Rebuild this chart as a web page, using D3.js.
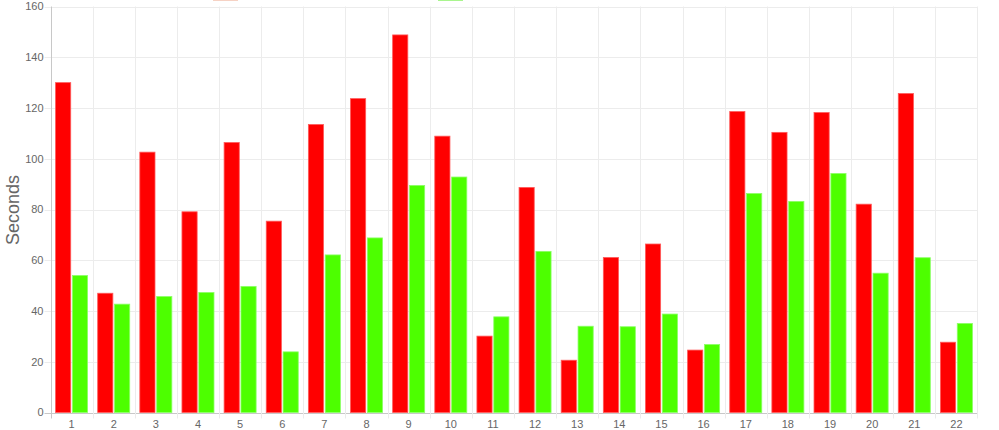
<!DOCTYPE html>
<html>
<head>
<meta charset="utf-8">
<script src="https://cdn.jsdelivr.net/npm/d3@7"></script>
<style>
  body { margin: 0; background: #fff; }
  text { font-family: "Liberation Sans", Arial, Helvetica, sans-serif; fill: #666; }
</style>
</head>
<body>
<script>
var width = 999,
    height = 430;

// data
var categories = ['1','2','3','4','5','6','7','8','9','10','11','12','13','14','15','16','17','18','19','20','21','22'];
var seriesNames = ['red', 'green'];
var redValues = [130, 47, 102.6, 79.1, 106.4, 75.4, 113.5, 123.7, 148.8, 108.9, 30.1, 88.7, 20.6, 61.1, 66.4, 24.6, 118.6, 110.4, 118.2, 82.1, 125.7, 27.7];
var greenValues = [54, 42.7, 45.7, 47.3, 49.7, 23.9, 62.1, 68.8, 89.5, 92.8, 37.7, 63.5, 34, 33.8, 38.8, 26.8, 86.3, 83.2, 94.2, 54.9, 61, 35.1];
var yTicks = [0, 20, 40, 60, 80, 100, 120, 140, 160];

var colors = { red: '#ff0000', green: '#4dff00' };
var borders = { red: '#ff5a5a', green: '#8cff66' };
var legendColors = { red: '#f6d2c4', green: '#a9f58e' };

var margin = { left: 50.5, right: 21.5, top: 6.5, bottom: 17.5 };

var svg = d3.select('body').append('svg')
    .attr('width', width)
    .attr('height', height);

var x0 = d3.scaleBand()
    .domain(categories)
    .range([margin.left, width - margin.right])
    .padding(0);

var bw = x0.bandwidth();
var x1 = d3.scaleBand()
    .domain(seriesNames)
    .range([bw * 0.1, bw * 0.9])
    .paddingInner(0.1)
    .paddingOuter(0.05);

var y = d3.scaleLinear()
    .domain([0, 160])
    .range([height - margin.bottom, margin.top]);

/* grid */
var grid = svg.append('g');
grid.selectAll('line.h')
    .data(yTicks)
    .enter().append('line')
    .attr('x1', margin.left - 6)
    .attr('x2', width - margin.right)
    .attr('y1', function(d) { return Math.round(y(d)) + 0.5; })
    .attr('y2', function(d) { return Math.round(y(d)) + 0.5; })
    .style('stroke', function(d) { return d === 0 ? '#c8c8c8' : '#ececec'; })
    .style('stroke-width', 1);

var bounds = categories.map(function(c) { return x0(c); }).concat([x0(categories[categories.length - 1]) + bw]);
grid.selectAll('line.v')
    .data(bounds)
    .enter().append('line')
    .attr('x1', function(d) { return Math.round(d) + 0.5; })
    .attr('x2', function(d) { return Math.round(d) + 0.5; })
    .attr('y1', margin.top)
    .attr('y2', height - margin.bottom + 6)
    .style('stroke', function(d, i) { return i === 0 ? '#c8c8c8' : '#ececec'; })
    .style('stroke-width', 1);

/* y tick labels */
svg.append('g').selectAll('text')
    .data(yTicks)
    .enter().append('text')
    .attr('x', margin.left - 7)
    .attr('y', function(d) { return y(d); })
    .attr('dy', '0.35em')
    .attr('text-anchor', 'end')
    .style('font-size', '11px')
    .text(function(d) { return d; });

/* x tick labels */
svg.append('g').selectAll('text')
    .data(categories)
    .enter().append('text')
    .attr('x', function(d) { return x0(d) + bw / 2; })
    .attr('y', height - margin.bottom + 15)
    .attr('text-anchor', 'middle')
    .style('font-size', '11px')
    .text(function(d) { return d; });

/* bars */
var rows = categories.map(function(c, i) {
    return { cat: c, red: redValues[i], green: greenValues[i] };
});

var groups = svg.append('g').selectAll('g')
    .data(rows)
    .enter().append('g')
    .attr('transform', function(d) { return 'translate(' + x0(d.cat) + ',0)'; });

groups.selectAll('rect')
    .data(function(d) { return seriesNames.map(function(s) { return { key: s, value: d[s] }; }); })
    .enter().append('rect')
    .attr('x', function(d) { return x1(d.key); })
    .attr('width', x1.bandwidth())
    .attr('y', function(d) { return y(d.value); })
    .attr('height', function(d) { return y(0) - y(d.value); })
    .style('fill', function(d) { return colors[d.key]; })
    .style('stroke', function(d) { return borders[d.key]; })
    .style('stroke-width', 0.8);

/* y axis title */
svg.append('text')
    .attr('transform', 'translate(19,210) rotate(-90)')
    .attr('text-anchor', 'middle')
    .style('font-size', '18px')
    .text('Seconds');

/* legend, mostly cut off above the top edge */
var legendX = [213, 438];
svg.append('g').selectAll('rect')
    .data(seriesNames)
    .enter().append('rect')
    .attr('x', function(d, i) { return legendX[i]; })
    .attr('y', -12)
    .attr('width', 25)
    .attr('height', 13)
    .style('fill', function(d) { return legendColors[d]; });
</script>
</body>
</html>
